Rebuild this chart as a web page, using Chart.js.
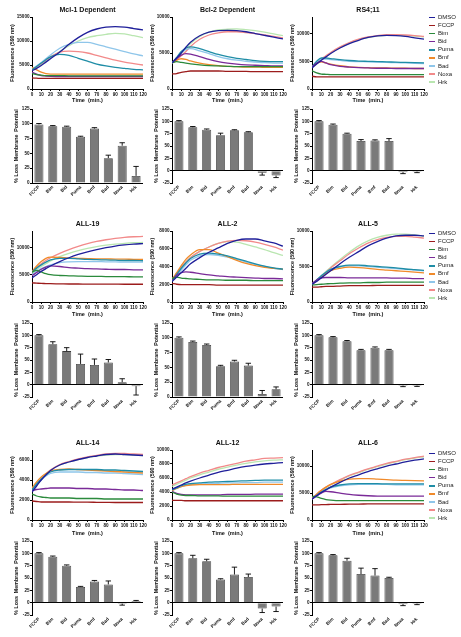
<!DOCTYPE html>
<html>
<head>
<meta charset="utf-8">
<script src="https://cdn.jsdelivr.net/npm/chart.js@4.4.1/dist/chart.umd.min.js"></script>
<style>
body{margin:0;background:#fff;width:461px;height:637px;overflow:hidden;position:relative;font-family:"Liberation Sans",Arial,sans-serif}
canvas{position:absolute}
.legend{position:absolute;left:429px;font-size:6px;color:#222}
.legend div{height:8.1px;line-height:8.1px;white-space:nowrap}
.legend span{display:inline-block;width:6px;height:1.5px;vertical-align:middle;margin-right:3px}
</style>
</head>
<body>
<script>
// time points (min.) for the kinetic traces
var times = [0, 5, 10, 15, 20, 30, 40, 50, 60, 70, 80, 90, 100, 110, 120];
var seriesNames = ['DMSO', 'FCCP', 'Bim', 'Bid', 'Puma', 'Bmf', 'Bad', 'Noxa', 'Hrk'];
var seriesColors = ['#1f1f9a', '#9c1c1c', '#2b8a3c', '#7a2a98', '#1f8da6', '#f08a2a', '#8fc6ea', '#f28a8a', '#b9e6b0'];
var barLabels = ['FCCP', 'Bim', 'Bid', 'Puma', 'Bmf', 'Bad', 'Noxa', 'Hrk'];
var barTicks = [-25, 0, 25, 50, 75, 100, 125];

// y tick labels of the fluorescence panels
var ticks15k = [0, 5000, 10000, 15000];
var ticks10k = [0, 5000, 10000];
var ticks8k = [0, 2000, 4000, 6000, 8000];
var ticks6k = [0, 2000, 4000, 6000];
var ticks10kBy2 = [0, 2000, 4000, 6000, 8000, 10000];

// fluorescence traces, one row per series (same order as seriesNames)
var mcl1Lines = [
  [3800,4300,4900,5600,6300,7700,9300,10700,11800,12500,12900,13000,12900,12600,12300],
  [2300,2250,2200,2200,2200,2200,2200,2200,2200,2200,2200,2200,2200,2200,2200],
  [3200,3000,2900,2800,2800,2800,2750,2750,2750,2750,2750,2750,2750,2750,2750],
  [3500,3100,2800,2700,2650,2600,2600,2600,2600,2600,2600,2600,2600,2600,2600],
  [4000,4700,5400,6100,6700,7200,7000,6400,5800,5200,4800,4500,4300,4100,4000],
  [4500,4000,3500,3200,3100,3100,3100,3100,3100,3100,3100,3100,3100,3100,3100],
  [4100,4800,5500,6300,7100,8500,9300,9700,9700,9300,8800,8300,7800,7300,6900],
  [3900,4600,5300,6000,6700,7700,7900,7800,7500,7000,6500,6000,5600,5300,5000],
  [4000,4500,5100,5800,6500,7800,9000,10000,10700,11100,11400,11600,11500,11100,10700]
];
var bcl2Lines = [
  [3600,4300,5000,5800,6500,7400,7900,8100,8150,8100,7950,7700,7450,7200,6950],
  [2100,2150,2300,2400,2500,2500,2500,2500,2450,2450,2450,2400,2400,2400,2400],
  [3600,3800,3700,3600,3500,3350,3250,3200,3150,3100,3100,3100,3100,3100,3100],
  [3600,4200,4700,4900,4850,4500,4100,3800,3600,3450,3350,3300,3250,3200,3200],
  [3600,4400,5200,5700,5850,5600,5200,4800,4500,4250,4100,3950,3850,3800,3800],
  [3600,4000,4200,4100,3900,3600,3400,3250,3150,3100,3050,3050,3000,3000,3000],
  [3600,4300,5000,5500,5600,5300,4900,4500,4200,4000,3850,3750,3650,3600,3600],
  [3600,4000,4600,5200,5900,6900,7500,7800,7950,7950,7850,7700,7500,7300,7100],
  [3600,4200,4900,5600,6300,7300,7900,8200,8300,8350,8250,8100,7900,7650,7400]
];
var rs411Lines = [
  [3800,4500,5200,5800,6400,7400,8200,8800,9300,9600,9700,9650,9500,9250,9000],
  [2300,2200,2200,2200,2200,2200,2200,2200,2200,2200,2200,2200,2200,2180,2180],
  [3300,2900,2700,2650,2600,2600,2600,2600,2600,2600,2600,2600,2600,2600,2600],
  [4000,4700,5000,4700,4400,4100,3950,3850,3800,3750,3750,3700,3700,3700,3700],
  [4000,5000,5600,5600,5500,5300,5150,5050,5000,4950,4900,4850,4800,4750,4700],
  [3900,4600,4900,4700,4500,4200,4000,3900,3850,3800,3800,3750,3750,3700,3700],
  [4000,4900,5400,5400,5300,5150,5000,4950,4900,4850,4800,4750,4700,4650,4600],
  [3900,4700,5400,6000,6600,7600,8400,9000,9400,9650,9800,9800,9750,9650,9500],
  [3900,4600,5300,5900,6500,7500,8300,8900,9300,9550,9700,9700,9650,9550,9400]
];
var all19Lines = [
  [4400,5000,5600,6100,6600,7400,8100,8700,9200,9600,9950,10250,10450,10600,10700],
  [3500,3450,3400,3380,3350,3330,3300,3300,3280,3280,3270,3260,3250,3250,3250],
  [5500,5800,5500,5200,5000,4850,4800,4750,4700,4700,4650,4650,4650,4600,4600],
  [4800,5400,6000,6400,6600,6500,6300,6200,6100,6050,6000,5950,5950,5900,5900],
  [5500,6200,6800,7300,7700,8000,8000,7900,7800,7750,7700,7650,7600,7600,7550],
  [5600,6600,7400,8000,8200,8150,8050,8000,7950,7900,7900,7850,7850,7800,7800],
  [5000,5600,6100,6500,6800,7200,7350,7400,7400,7400,7350,7350,7300,7300,7300],
  [5500,6300,7000,7600,8100,8900,9600,10200,10700,11100,11400,11650,11850,11950,12000],
  [5200,5900,6500,7000,7500,8300,8900,9400,9800,10150,10400,10600,10750,10850,10900]
];
var all2Lines = [
  [2300,2800,3300,3800,4300,5000,5600,6100,6600,6950,7100,7100,6900,6650,6300],
  [2100,2000,1950,1950,1950,1950,1950,1900,1900,1900,1900,1900,1900,1900,1900],
  [2600,2800,2700,2650,2600,2550,2500,2500,2450,2450,2450,2400,2400,2400,2400],
  [2500,3000,3300,3400,3350,3200,3050,2950,2850,2800,2750,2700,2650,2650,2600],
  [2400,3100,3800,4400,4900,5400,5500,5400,5200,4900,4600,4300,4050,3850,3700],
  [2500,3300,4100,4800,5300,5900,5900,5500,5100,4700,4350,4100,3900,3800,3700],
  [2400,3000,3600,4200,4700,5200,5350,5250,5050,4800,4500,4250,4000,3800,3650],
  [2500,3200,3900,4500,5000,5700,6200,6600,6850,6950,6900,6750,6500,6200,5850],
  [2500,3200,3900,4500,5000,5700,6200,6600,6800,6750,6500,6200,5900,5550,5250]
];
var all5Lines = [
  [2500,2900,3400,3900,4400,5400,6300,7100,7900,8500,9000,9300,9400,9400,9300],
  [2100,2100,2150,2200,2200,2250,2300,2300,2300,2350,2350,2350,2350,2350,2350],
  [2400,2450,2500,2550,2600,2650,2700,2700,2750,2750,2800,2800,2800,2800,2800],
  [2600,3100,3400,3450,3450,3450,3400,3400,3400,3400,3400,3350,3350,3300,3300],
  [2500,3100,3700,4200,4600,5000,5200,5200,5100,5000,4900,4800,4650,4550,4450],
  [2500,3000,3500,4000,4400,4750,4900,4850,4750,4600,4500,4400,4300,4200,4100],
  [2500,3100,3700,4200,4600,4950,5100,5100,5000,4900,4800,4700,4600,4500,4400],
  [2500,3000,3600,4200,4800,5800,6800,7600,8300,8800,9100,9250,9250,9150,9000],
  [2500,3100,3700,4300,4900,6000,7000,7900,8600,9100,9400,9550,9550,9450,9250]
];
var all14Lines = [
  [2800,3400,4000,4500,4950,5500,5800,6050,6250,6400,6550,6600,6550,6500,6450],
  [1900,1850,1800,1800,1800,1800,1800,1780,1780,1770,1760,1750,1750,1750,1750],
  [2600,2400,2300,2250,2200,2200,2200,2150,2150,2150,2100,2100,2100,2100,2100],
  [2900,3050,3100,3150,3200,3200,3200,3150,3150,3100,3100,3050,3000,3000,2950],
  [3000,3600,4100,4500,4800,5000,5050,5050,5050,5050,5000,5000,4950,4900,4850],
  [3200,3800,4300,4650,4900,5050,5100,5050,5000,4950,4900,4850,4800,4750,4700],
  [3000,3500,4000,4400,4650,4800,4800,4800,4750,4750,4700,4700,4650,4600,4550],
  [2900,3500,4100,4600,5000,5550,5850,6100,6300,6450,6600,6650,6650,6600,6550],
  [2900,3500,4100,4600,5000,5500,5800,6050,6250,6400,6500,6550,6550,6500,6450]
];
var all12Lines = [
  [4400,4700,5000,5300,5550,6000,6400,6800,7100,7400,7650,7850,8000,8100,8200],
  [2800,2800,2800,2750,2750,2750,2750,2750,2750,2750,2750,2750,2750,2750,2750],
  [4000,3700,3550,3500,3500,3450,3450,3450,3400,3400,3400,3400,3400,3400,3400],
  [4100,3800,3650,3600,3600,3600,3600,3600,3650,3650,3650,3700,3700,3700,3700],
  [4300,4600,4900,5100,5200,5300,5400,5450,5500,5550,5600,5650,5700,5700,5700],
  [4200,4500,4750,4900,5000,5050,5050,5050,5050,5100,5100,5100,5100,5100,5100],
  [4200,4500,4750,4950,5050,5150,5200,5250,5300,5300,5350,5350,5400,5400,5400],
  [5000,5300,5600,5900,6200,6700,7100,7500,7800,8100,8400,8600,8800,8850,8900],
  [4800,5100,5400,5700,6000,6450,6850,7250,7550,7850,8100,8300,8450,8550,8600]
];
var all6Lines = [
  [3900,4500,5100,5600,6100,7000,7800,8400,9000,9500,10000,10400,10800,11100,11350],
  [2800,2800,2850,2850,2900,2900,2950,2950,3000,3000,3000,3000,3000,3000,3000],
  [4400,4300,4000,3800,3700,3600,3600,3600,3600,3600,3600,3600,3600,3600,3600],
  [3900,4500,5000,5300,5250,5000,4750,4600,4500,4450,4450,4450,4450,4450,4450],
  [3900,4600,5200,5700,6100,6500,6700,6750,6750,6750,6700,6700,6700,6700,6700],
  [4000,4800,5500,6100,6600,7200,7600,7700,7700,7600,7500,7400,7350,7300,7250],
  [3900,4500,5100,5600,5950,6350,6550,6600,6600,6600,6600,6550,6550,6550,6550],
  [4000,4800,5500,6100,6600,7500,8300,8900,9500,10000,10500,10900,11300,11600,11850],
  [4000,4700,5400,6000,6500,7400,8200,8800,9400,9900,10400,10800,11200,11500,11750]
];

// % loss of membrane potential, with SEM
var mcl1Bars = [99, 96, 95, 78, 92, 42, 63, 12];
var mcl1Err = [1.5, 1, 1, 1, 1.5, 5, 5, 16];
var bcl2Bars = [100, 88, 83, 72, 82, 78, -4, -10];
var bcl2Err = [1.5, 1.5, 1.5, 4, 1, 1, 5, 4];
var rs411Bars = [100, 93, 75, 60, 61, 60, -3, -2];
var rs411Err = [1.5, 1.5, 1, 3, 1.5, 5, 3, 2];
var all19Bars = [100, 82, 68, 42, 40, 45, 5, -3];
var all19Err = [1.5, 5, 7, 20, 12, 6, 7, 18];
var all2Bars = [100, 93, 88, 52, 60, 53, 5, 13];
var all2Err = [1.5, 1.5, 1.5, 1.5, 2, 4, 6, 4];
var all5Bars = [100, 96, 88, 70, 75, 70, -2, -2];
var all5Err = [1.5, 1.5, 1.5, 1.5, 1.5, 1.5, 2, 1.5];
var all14Bars = [100, 93, 75, 32, 43, 37, -2, 3];
var all14Err = [1.5, 1.5, 1.5, 1, 2, 7, 3, 1.5];
var all12Bars = [100, 90, 84, 47, 57, 52, -12, -8];
var all12Err = [1.5, 6, 4, 1.5, 15, 6, 8, 10];
var all6Bars = [100, 96, 85, 58, 55, 50, -3, -2];
var all6Err = [1.5, 1.5, 5, 12, 14, 1.5, 3, 2];

Chart.defaults.font.family = '"Liberation Sans", Arial, sans-serif';
Chart.defaults.font.weight = 'bold';
Chart.defaults.font.size = 4.6;
Chart.defaults.color = '#111';

var colX = [32, 172, 312];     // y axis position of each column
var colRight = [143, 283, 424]; // right end of each plot

function addCanvas(left, top, w, h) {
  var c = document.createElement('canvas');
  c.width = w; c.height = h;
  c.style.left = left + 'px'; c.style.top = top + 'px';
  document.body.appendChild(c);
  return c;
}

function setTicks(list) {
  return function(s) { s.ticks = list.map(function(v) { return {value: v}; }); };
}

var errorBars = {
  id: 'errorBars',
  afterDatasetsDraw: function(chart) {
    var ctx = chart.ctx, ys = chart.scales.y;
    var ds = chart.data.datasets[0], meta = chart.getDatasetMeta(0);
    ctx.save();
    ctx.strokeStyle = '#000';
    ctx.lineWidth = 0.9;
    meta.data.forEach(function(bar, i) {
      var v = ds.data[i], e = ds.errors[i];
      var end = v + (v < 0 ? -e : e);
      var y0 = ys.getPixelForValue(v), y1 = ys.getPixelForValue(end);
      var half = bar.width * 0.3;
      ctx.beginPath();
      ctx.moveTo(bar.x, y0); ctx.lineTo(bar.x, y1);
      ctx.moveTo(bar.x - half, y1); ctx.lineTo(bar.x + half, y1);
      ctx.stroke();
    });
    ctx.restore();
  }
};

function lineChart(col, top, plotBottom, title, values, yMax, yTicks) {
  var left = colX[col] - 32, w = colRight[col] + 7 - left, h = 106;
  var cv = addCanvas(left, top, w, h);
  new Chart(cv, {
    type: 'line',
    data: {
      datasets: seriesNames.map(function(n, i) {
        return {
          label: n,
          data: times.map(function(t, j) { return {x: t, y: values[i][j]}; }),
          borderColor: seriesColors[i],
          borderWidth: 1.3,
          pointRadius: 0,
          cubicInterpolationMode: 'monotone',
          fill: false
        };
      })
    },
    options: {
      responsive: false, animation: false, events: [],
      layout: {padding: {left: 0, right: 7, top: 0, bottom: 0}},
      plugins: {
        legend: {display: false}, tooltip: {enabled: false},
        title: {display: true, text: title, fullSize: false, color: '#111',
                font: {size: 7, weight: 'bold'}, padding: {top: 6, bottom: 2.6}}
      },
      scales: {
        x: {
          type: 'linear', min: 0, max: 120,
          ticks: {stepSize: 10, autoSkip: false, maxRotation: 0, padding: 0.5},
          grid: {drawOnChartArea: false, tickLength: 2, tickColor: '#000'},
          border: {color: '#000', width: 1},
          title: {display: true, text: 'Time  (min.)', font: {size: 5.5, weight: 'bold'}, padding: {top: 0, bottom: 2.4}},
          afterFit: function(s) { s.height = h - (plotBottom - top); }
        },
        y: {
          min: 0, max: yMax,
          afterBuildTicks: setTicks(yTicks),
          ticks: {autoSkip: false, padding: 0.5, callback: function(v) { return String(v); }},
          grid: {drawOnChartArea: false, tickLength: 2, tickColor: '#000'},
          border: {color: '#000', width: 1},
          title: {display: true, text: 'Fluorescence (590 nm)', font: {size: 5.3, weight: 'bold'}, padding: {top: 9, bottom: 0}},
          afterFit: function(s) { s.width = 32; }
        }
      }
    }
  });
}

function barChart(col, plotTop, values, errors, yMin) {
  var left = colX[col] - 32, w = colRight[col] + 7 - left, h = 101;
  var cv = addCanvas(left, plotTop - 5, w, h);
  new Chart(cv, {
    type: 'bar',
    data: {
      labels: barLabels,
      datasets: [{data: values, errors: errors, backgroundColor: '#7a7a7a', borderColor: '#3a3a3a',
                  borderWidth: 0.8, barPercentage: 0.65, categoryPercentage: 1}]
    },
    options: {
      responsive: false, animation: false, events: [],
      layout: {padding: {left: 0, right: 7, top: 5, bottom: 0}},
      plugins: {legend: {display: false}, tooltip: {enabled: false}},
      scales: {
        x: {
          ticks: {maxRotation: 45, minRotation: 45, autoSkip: false, padding: 1.5},
          grid: {display: true, drawOnChartArea: false, drawTicks: false},
          border: {display: false},
          afterFit: function(s) { s.height = h - 5 - 74; }
        },
        y: {
          min: yMin, max: 125,
          afterBuildTicks: setTicks(barTicks.filter(function(v) { return v >= yMin; })),
          ticks: {autoSkip: false, padding: 0.5},
          grid: {color: function(c) { return c.tick && c.tick.value === 0 ? '#000' : 'rgba(0,0,0,0)'; },
                 lineWidth: 1, tickLength: 2, tickColor: '#000'},
          border: {color: '#000', width: 1},
          title: {display: true, text: '% Loss  Membrane  Potential', font: {size: 5.3, weight: 'bold'}, padding: {top: 13, bottom: 0}},
          afterFit: function(s) { s.width = 32; }
        }
      }
    },
    plugins: [errorBars]
  });
}

function legend(firstCenter) {
  var d = document.createElement('div');
  d.className = 'legend';
  d.style.top = (firstCenter - 4) + 'px';
  seriesNames.forEach(function(n, i) {
    var r = document.createElement('div');
    var s = document.createElement('span');
    s.style.background = seriesColors[i];
    r.appendChild(s);
    r.appendChild(document.createTextNode(n));
    d.appendChild(r);
  });
  document.body.appendChild(d);
}

// row 1
lineChart(0, 0, 89, 'Mcl-1 Dependent', mcl1Lines, 15000, ticks15k);
lineChart(1, 0, 89, 'Bcl-2 Dependent', bcl2Lines, 10000, ticks10k);
lineChart(2, 0, 89, 'RS4;11', rs411Lines, 13000, ticks10k);
legend(17);
barChart(0, 109, mcl1Bars, mcl1Err, 0);
barChart(1, 109, bcl2Bars, bcl2Err, -25);
barChart(2, 109, rs411Bars, rs411Err, -25);

// row 2
lineChart(0, 214, 302, 'ALL-19', all19Lines, 13000, ticks10k);
lineChart(1, 214, 302, 'ALL-2', all2Lines, 8000, ticks8k);
lineChart(2, 214, 302, 'ALL-5', all5Lines, 10000, ticks10k);
legend(233);
barChart(0, 323, all19Bars, all19Err, -25);
barChart(1, 323, all2Bars, all2Err, 0);
barChart(2, 323, all5Bars, all5Err, -25);

// row 3
lineChart(0, 433, 520, 'ALL-14', all14Lines, 7000, ticks6k);
lineChart(1, 433, 520, 'ALL-12', all12Lines, 10000, ticks10kBy2);
lineChart(2, 433, 520, 'ALL-6', all6Lines, 13000, ticks10k);
legend(453);
barChart(0, 541, all14Bars, all14Err, -25);
barChart(1, 541, all12Bars, all12Err, -25);
barChart(2, 541, all6Bars, all6Err, -25);
</script>
</body>
</html>
